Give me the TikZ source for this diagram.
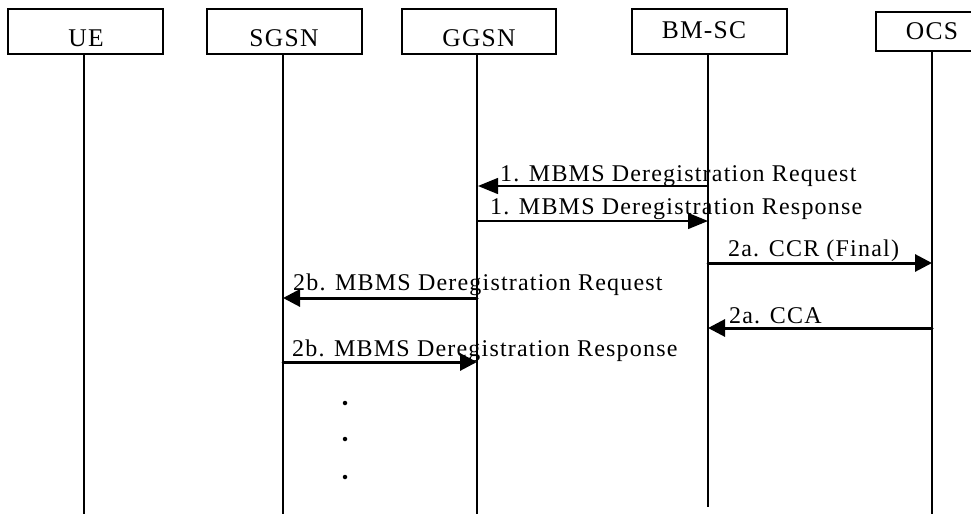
\documentclass[tikz,border=0pt]{standalone}
\usepackage{fontspec}
\setmainfont{Liberation Serif}[LetterSpace=5]
\usetikzlibrary{arrows.meta}
\begin{document}
\begin{tikzpicture}[x=1pt,y=-1pt,
  ent/.style={draw, line width=1.3pt, minimum width=155pt, minimum height=45pt, inner sep=0pt, outer sep=0pt},
  enttxt/.style={inner sep=0pt, font=\fontsize{25.5}{30}\selectfont},
  life/.style={line width=1.4pt},
  thinmsg/.style={line width=1.3pt, -{Triangle[length=20pt,width=16pt]}},
  thickmsg/.style={line width=3pt, line cap=round, -{Triangle[length=17pt,width=17pt]}},
  lbl/.style={anchor=west, inner sep=0pt, font=\fontsize{24}{28}\selectfont},
  dotmark/.style={circle, fill, inner sep=0pt, minimum size=4.5pt}]
\useasboundingbox (0,0) rectangle (971,514);
% entity boxes
\node[ent] (ue) at (85.5,31.5) {};
\node[ent] (sgsn) at (284.5,31.5) {};
\node[ent, minimum width=154pt] (ggsn) at (479,31.5) {};
\node[ent] (bmsc) at (709.5,31.5) {};
\node[ent, minimum height=39pt] (ocs) at (953.5,31.5) {};
\node[enttxt] (uet) at (86,38) {UE};
\node[enttxt] (sgsnt) at (284,38) {SGSN};
\node[enttxt] (ggsnt) at (479,38) {GGSN};
\node[enttxt] (bmsct) at (704,30) {BM-SC};
\node[enttxt] (ocst) at (932,31) {OCS};
% lifelines
\coordinate (ue-top) at (84,54);   \coordinate (ue-bot) at (84,514);
\coordinate (sg-top) at (283,54);  \coordinate (sg-bot) at (283,514);
\coordinate (gg-top) at (477,54);  \coordinate (gg-bot) at (477,514);
\coordinate (bm-top) at (708,54);  \coordinate (bm-bot) at (708,507);
\coordinate (oc-top) at (932,51);  \coordinate (oc-bot) at (932,514);
\draw[life] (ue-top) -- (ue-bot);
\draw[life] (sg-top) -- (sg-bot);
\draw[life] (gg-top) -- (gg-bot);
\draw[life] (bm-top) -- (bm-bot);
\draw[life] (oc-top) -- (oc-bot);
% message end points
\coordinate (m1s) at (708,186); \coordinate (m1e) at (478,186);
\coordinate (m2s) at (478,221); \coordinate (m2e) at (708,221);
\coordinate (m3s) at (708,263); \coordinate (m3e) at (932,263);
\coordinate (m4s) at (477,298); \coordinate (m4e) at (283,298);
\coordinate (m5s) at (932,328); \coordinate (m5e) at (708,328);
\coordinate (m6s) at (283,362); \coordinate (m6e) at (477,362);
% messages
\draw[thinmsg] (m1s) -- (m1e);
\draw[thinmsg] (m2s) -- (m2e);
\draw[thickmsg] (m3s) -- (m3e);
\draw[thickmsg] (m4s) -- (m4e);
\draw[thickmsg] (m5s) -- (m5e);
\draw[thickmsg] (m6s) -- (m6e);
% labels
\node[lbl] (l1) at (500,176) {1. MBMS Deregistration Request};
\node[lbl] (l2) at (490,209) {1. MBMS Deregistration Response};
\node[lbl] (l3) at (728,251) {2a. CCR (Final)};
\node[lbl] (l4) at (293,285) {2b. MBMS Deregistration Request};
\node[lbl] (l5) at (729,316) {2a. CCA};
\node[lbl] (l6) at (292,351) {2b. MBMS Deregistration Response};
% continuation dots
\node[dotmark] (d1) at (345,403) {};
\node[dotmark] (d2) at (345,439) {};
\node[dotmark] (d3) at (345,477) {};
\end{tikzpicture}
\end{document}
